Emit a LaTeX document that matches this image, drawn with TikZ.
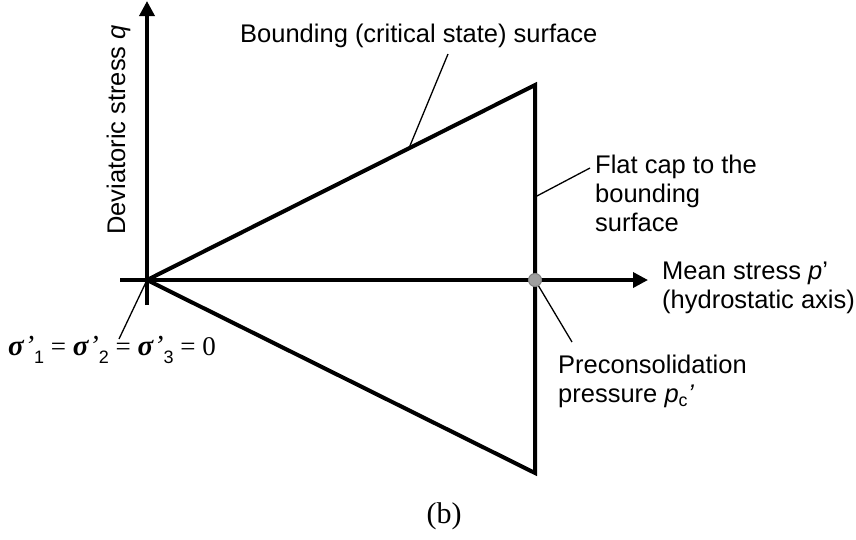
\documentclass[tikz,border=0pt]{standalone}
\usepackage{fontspec}
\setmainfont{Liberation Serif}
\setsansfont{Liberation Sans}
\usetikzlibrary{arrows.meta, positioning, calc}

\newcommand{\sigp}[1]{{\fontsize{29}{30}\selectfont\textbf{\textit{σ}}\textit{’}}\raisebox{-0.3em}{\sffamily\fontsize{18}{18}\selectfont #1}}

\begin{document}
\begin{tikzpicture}[x=1pt, y=-1pt,
  font=\sffamily\fontsize{25.5}{29}\selectfont,
  axis/.style={line width=3.5pt, -{Triangle[length=15pt, width=15pt]}},
  bound/.style={line width=4pt, line join=miter},
  leader/.style={line width=1.3pt},
  lbl/.style={inner sep=0pt, align=left}]
\useasboundingbox (0,0) rectangle (856,539);
\coordinate (O) at (147,280);
\coordinate (T) at (535,85);
\coordinate (B) at (535,473);
\coordinate (qbot) at (147,305);
\coordinate (qtop) at (147,1);
\coordinate (pleft) at (120,280);
\coordinate (pright) at (648,280);
\draw[bound] (O) -- (T) -- (B) -- cycle;
\draw[axis] (qbot) -- (qtop);
\draw[axis] (pleft) -- (pright);
\node[lbl, rotate=90, anchor=base] (qlbl) at (125,130) {Deviatoric stress \textit{q}};
\node[lbl, anchor=north west] (plbl) at (662,262) {Mean stress \textit{p}’\\(hydrostatic axis)};
\node[lbl, anchor=base west] (bnd) at (240,42) {Bounding (critical state) surface};
\node[lbl, anchor=north west] (cap) at (595,155) {Flat cap to the\\bounding\\surface};
\node[lbl, anchor=north west] (pre) at (558,355) {Preconsolidation\\pressure \textit{p}\textsubscript{c}\textit{’}};
\node[lbl, anchor=base west, font=\rmfamily\fontsize{27}{30}\selectfont] (zero) at (8,355)
  {\sigp{1} = \sigp{2} = \sigp{3} = 0};
\node[inner sep=0pt, font=\rmfamily\fontsize{30}{32}\selectfont] (fig) at (444,516) {(b)};
\coordinate (bndfoot) at ($(O)!0.675!(T)$);
\coordinate (bndtip) at (448,54);
\coordinate (capfoot) at (535,197);
\coordinate (captip) at (590,168);
\coordinate (pretip) at (572,342);
\coordinate (zerotip) at (119,339);
\draw[leader] (bndfoot) -- (bndtip);
\draw[leader] (capfoot) -- (captip);
\draw[leader] (O) -- (zerotip);
\draw[leader] (535,280) -- (pretip);
\node[circle, fill=gray!75, draw=gray, line width=1pt, minimum size=13pt, inner sep=0pt] (pc) at (535,280) {};
\end{tikzpicture}
\end{document}
